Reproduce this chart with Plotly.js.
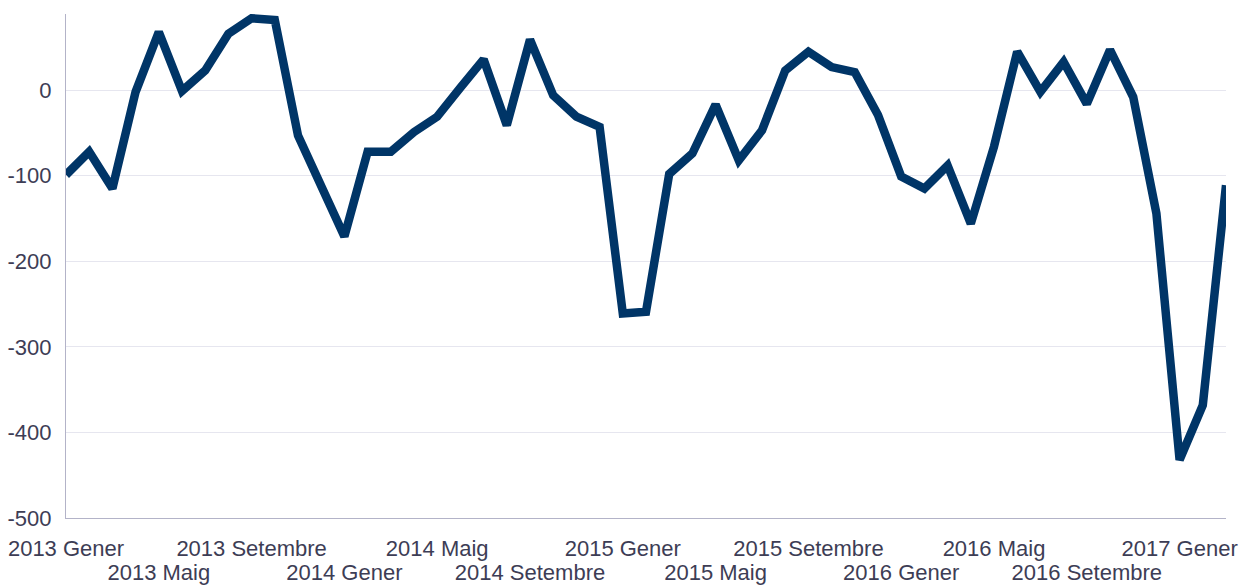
<!DOCTYPE html>
<html>
<head>
<meta charset="utf-8">
<script src="https://cdn.plot.ly/plotly-3.0.1.min.js"></script>
<style>html,body{margin:0;padding:0;background:#fff;}#chart{width:1243px;height:585px;}</style>
</head>
<body>
<div id="chart"></div>
<script>
const months = [
  "2013 Gener","2013 Febrer","2013 Març","2013 Abril","2013 Maig","2013 Juny","2013 Juliol","2013 Agost","2013 Setembre","2013 Octubre","2013 Novembre","2013 Desembre",
  "2014 Gener","2014 Febrer","2014 Març","2014 Abril","2014 Maig","2014 Juny","2014 Juliol","2014 Agost","2014 Setembre","2014 Octubre","2014 Novembre","2014 Desembre",
  "2015 Gener","2015 Febrer","2015 Març","2015 Abril","2015 Maig","2015 Juny","2015 Juliol","2015 Agost","2015 Setembre","2015 Octubre","2015 Novembre","2015 Desembre",
  "2016 Gener","2016 Febrer","2016 Març","2016 Abril","2016 Maig","2016 Juny","2016 Juliol","2016 Agost","2016 Setembre","2016 Octubre","2016 Novembre","2016 Desembre",
  "2017 Gener","2017 Febrer","2017 Març"
];
const values = [
  -99,-72,-115,-2,68,-1,23,66,84,82,
  -53,-112,-171,-72,-72,-49,-31,3,36,-41,
  59,-6,-31,-43,-261,-259,-98,-74,-17,-82,
  -47,23,45,27,21,-29,-101,-115,-88,-156,
  -66,45,-2,33,-16,47,-8,-144,-432,-368,
  -111
];
const ticksRow1 = ["2013 Gener","2013 Setembre","2014 Maig","2015 Gener","2015 Setembre","2016 Maig","2017 Gener"];
const ticksRow2 = ["2013 Maig","2014 Gener","2014 Setembre","2015 Maig","2016 Gener","2016 Setembre"];
const yTicks = [-500,-400,-300,-200,-100,0];

const fontFamily = '"Liberation Sans", Arial, sans-serif';
const labelColor = '#3d3d55';
const axisColor = '#b3b3c8';
const gridColor = '#e6e6ef';

const trace = {
  x: months,
  y: values,
  type: 'scatter',
  mode: 'lines',
  line: {color: '#003567', width: 8.5, shape: 'linear'},
  hoverinfo: 'x+y',
  showlegend: false
};

const layout = {
  width: 1243,
  height: 585,
  margin: {l: 66, r: 17, t: 14, b: 67, pad: 0},
  paper_bgcolor: '#ffffff',
  plot_bgcolor: '#ffffff',
  font: {family: fontFamily, size: 22, color: labelColor},
  showlegend: false,
  xaxis: {
    type: 'category',
    categoryarray: months,
    range: [0, months.length - 1],
    tickmode: 'array',
    tickvals: ticksRow1,
    ticktext: ticksRow1,
    tickangle: 0,
    ticks: '',
    showgrid: false,
    zeroline: false,
    showline: true,
    linecolor: axisColor,
    linewidth: 1,
    ticklabelstandoff: 11,
    tickfont: {family: fontFamily, size: 22, color: labelColor}
  },
  xaxis2: {
    type: 'category',
    categoryarray: months,
    overlaying: 'x',
    anchor: 'y',
    side: 'bottom',
    range: [0, months.length - 1],
    tickmode: 'array',
    tickvals: ticksRow2,
    ticktext: ticksRow2,
    tickangle: 0,
    ticks: '',
    showgrid: false,
    zeroline: false,
    showline: false,
    ticklabelstandoff: 39,
    tickfont: {family: fontFamily, size: 22, color: labelColor}
  },
  yaxis: {
    range: [-500, 89],
    tickmode: 'array',
    tickvals: yTicks,
    ticktext: yTicks.map(String),
    ticks: '',
    showgrid: true,
    gridcolor: gridColor,
    gridwidth: 1,
    zeroline: false,
    showline: true,
    linecolor: axisColor,
    linewidth: 1,
    ticklabelstandoff: 9,
    tickfont: {family: fontFamily, size: 22, color: labelColor}
  }
};

const trace2 = {
  x: [ticksRow2[0]],
  y: [null],
  xaxis: 'x2',
  yaxis: 'y',
  type: 'scatter',
  mode: 'lines',
  hoverinfo: 'skip',
  showlegend: false
};

Plotly.newPlot('chart', [trace, trace2], layout, {displayModeBar: false, staticPlot: true});
</script>
</body>
</html>
